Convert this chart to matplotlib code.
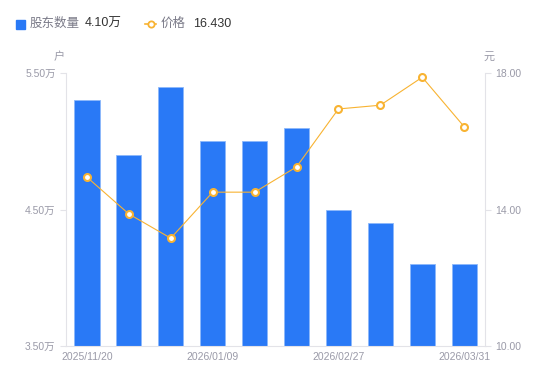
import numpy as np
import matplotlib.pyplot as plt

plt.rcParams['font.family'] = ['Liberation Sans', 'Noto Sans CJK SC', 'DejaVu Sans']

# data
dates = ['2025/11/20', '2025/12/10', '2025/12/20', '2026/01/09', '2026/01/20',
         '2026/02/10', '2026/02/27', '2026/03/10', '2026/03/20', '2026/03/31']
holders = [5.30, 4.90, 5.40, 5.00, 5.00, 5.10, 4.50, 4.40, 4.10, 4.10]  # 万户
price = [14.95, 13.87, 13.16, 14.51, 14.51, 15.25, 16.95, 17.06, 17.88, 16.43]
shown_ticks = [0, 3, 6, 9]

BLUE = '#2979F6'
ORANGE = '#F8B332'
GRAY = '#9A9AA8'
AXC = '#E3E3E8'

fig = plt.figure(figsize=(5.5, 3.81), dpi=100)
ax = fig.add_axes([0.12, 0.092, 0.762, 0.716])
x = np.arange(len(dates))

ax.bar(x, holders, width=0.6, color=BLUE, edgecolor='#8DB8FA', linewidth=0.6, zorder=2)
ax.set_xlim(-0.5, len(dates) - 0.5)
ax.set_ylim(3.5, 5.5)
ax.set_yticks([3.5, 4.5, 5.5])
ax.set_yticklabels([f'{v:.2f}万' for v in [3.5, 4.5, 5.5]])
ax.set_xticks([x[i] for i in shown_ticks])
ax.set_xticklabels([dates[i] for i in shown_ticks])

ax2 = ax.twinx()
ax2.plot(x, price, color=ORANGE, lw=0.8, marker='o', ms=5,
         mfc='white', mec=ORANGE, mew=1.5, zorder=3)
ax2.set_ylim(10, 18)
ax2.set_yticks([10, 14, 18])
ax2.set_yticklabels([f'{v:.2f}' for v in [10, 14, 18]])

for a in (ax, ax2):
    for s in a.spines.values():
        s.set_visible(False)
    a.tick_params(colors=GRAY, labelsize=7.5, length=4, width=0.8)
    a.tick_params(axis='y', color=AXC)
ax.spines['left'].set_visible(True)
ax.spines['left'].set_color(AXC)
ax.spines['bottom'].set_visible(True)
ax.spines['bottom'].set_color(AXC)
ax2.spines['right'].set_visible(True)
ax2.spines['right'].set_color(AXC)
ax.tick_params(axis='x', length=0, pad=4)

fig.text(59 / 550, 1 - 57 / 381, '户', color=GRAY, fontsize=8, ha='center', va='center')
fig.text(489 / 550, 1 - 57 / 381, '元', color=GRAY, fontsize=8, ha='center', va='center')

# legend
ly = 1 - 24 / 381
fig.patches.append(plt.Rectangle((16 / 550, 1 - 29 / 381), 9 / 550, 9 / 381,
                                 transform=fig.transFigure, color=BLUE, figure=fig))
fig.text(30 / 550, ly, '股东数量', color='#7A7A88', fontsize=9, va='center')
fig.text(85 / 550, ly, '4.10万', color='#333333', fontsize=9, va='center')
fig.add_artist(plt.Line2D([145 / 550, 156 / 550], [ly, ly], color=ORANGE, lw=1.2))
fig.add_artist(plt.Line2D([150.5 / 550], [ly], color=ORANGE, marker='o', ms=4.5,
                          mfc='white', mec=ORANGE, mew=1.3))
fig.text(161 / 550, ly, '价格', color='#7A7A88', fontsize=9, va='center')
fig.text(193 / 550, ly, '16.430', color='#333333', fontsize=9, va='center')

fig.savefig('out.png', dpi=100)
